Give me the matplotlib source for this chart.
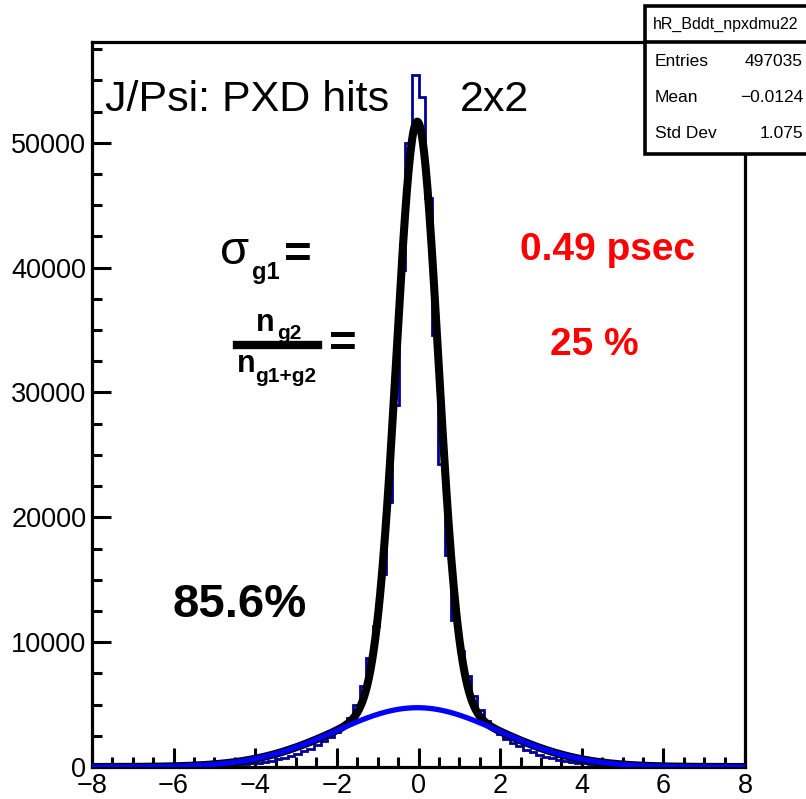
import numpy as np
import matplotlib
matplotlib.use("Agg")
import matplotlib.pyplot as plt
from matplotlib.ticker import MultipleLocator
from matplotlib.patches import Rectangle
from matplotlib.lines import Line2D

plt.rcParams['font.family'] = ['Liberation Sans', 'DejaVu Sans']

# histogram: 100 bins from -8 to 8
bin_edges = np.linspace(-8, 8, 101)
left_tail = [6, 7, 8, 9, 10, 12, 14, 16, 19, 22, 26, 30, 36, 42, 50, 60, 70, 85, 100, 120,
             145, 175, 210, 250, 300, 360, 430, 510, 610, 730, 880, 1050, 1250, 1480, 1750, 2050,
             2400, 2800, 3300, 3900]
core = [5000, 6470, 8700, 11300, 15500, 21200, 29000, 39800, 50000, 55400,
        53700, 45600, 34600, 24250, 16950, 11780, 9300, 7300, 5700, 4600]
right_tail = [3700, 3100, 2650, 2250, 1950, 1650, 1400, 1180, 1000, 840, 700, 590, 490, 410,
              345, 290, 240, 200, 170, 140, 118, 98, 82, 68, 58, 48, 40, 34, 29, 25, 21, 18,
              15, 13, 11, 10, 8, 7, 6, 5]
counts = left_tail + core + right_tail

# double gaussian fit
fit_mean = -0.03
narrow_amp, narrow_sigma = 46950, 0.51
wide_amp, wide_sigma = 4750, 2.0

# stats box
stat_title = "hR_Bddt_npxdmu22"
stat_names = ["Entries", "Mean", "Std Dev"]
stat_values = ["497035", "\u22120.0124", "1.075"]

W, H = 806, 799


def fx(px):
    return px / W


def fy(py):
    return 1 - py / H


fig = plt.figure(figsize=(W / 100, H / 100), dpi=100)
ax = fig.add_axes([fx(92), fy(767), (745 - 92) / W, (767 - 41.7) / H])

ax.stairs(counts, bin_edges, color='#000099', linewidth=2.0, zorder=2)

xs = np.linspace(-8, 8, 801)
wide = wide_amp * np.exp(-0.5 * ((xs - fit_mean) / wide_sigma) ** 2)
narrow = narrow_amp * np.exp(-0.5 * ((xs - fit_mean) / narrow_sigma) ** 2)
ax.plot(xs, narrow + wide, color='black', linewidth=5.8, zorder=3)
ax.plot(xs, wide, color='#0000ff', linewidth=3.8, zorder=4)

ax.set_xlim(-8, 8)
ax.set_ylim(0, 58100)
ax.xaxis.set_major_locator(MultipleLocator(2))
ax.xaxis.set_minor_locator(MultipleLocator(0.5))
ax.yaxis.set_major_locator(MultipleLocator(10000))
ax.yaxis.set_minor_locator(MultipleLocator(2500))
ax.tick_params(which='both', direction='in', top=False, right=False, width=2.2,
               labelsize=19.5, colors='black')
ax.tick_params(which='major', length=14)
ax.tick_params(which='minor', length=7)
ax.tick_params(axis='y', pad=4)
ax.tick_params(axis='x', pad=4)
for s in ax.spines.values():
    s.set_linewidth(2.3)

# annotations
fig.text(fx(105), fy(100), "J/Psi: PXD hits", fontsize=31, va='center', ha='left')
fig.text(fx(460), fy(100), "2x2", fontsize=31, va='center', ha='left')

fig.text(fx(220), fy(252), "\u03c3", fontsize=34, va='center', ha='left')
fig.text(fx(252), fy(272), "g1", fontsize=17, fontweight='bold', va='center', ha='left')
fig.text(fx(284), fy(256), "=", fontsize=34, fontweight='bold', va='center', ha='left')

fig.text(fx(520), fy(250), "0.49 psec", fontsize=28, fontweight='bold', color='#ff0000',
         va='center', ha='left')
fig.text(fx(550), fy(345), "25 %", fontsize=28, fontweight='bold', color='#ff0000',
         va='center', ha='left')

fig.text(fx(256), fy(323), "n", fontsize=22, fontweight='bold', va='center', ha='left')
fig.text(fx(277), fy(333), "g2", fontsize=15, fontweight='bold', va='center', ha='left')
fig.add_artist(Line2D([fx(237), fx(318)], [fy(345), fy(345)], color='black', linewidth=6,
                      transform=fig.transFigure))
fig.text(fx(237), fy(364), "n", fontsize=22, fontweight='bold', va='center', ha='left')
fig.text(fx(255), fy(376), "g1+g2", fontsize=15, fontweight='bold', va='center', ha='left')
fig.text(fx(329), fy(345), "=", fontsize=34, fontweight='bold', va='center', ha='left')

fig.text(fx(172), fy(605), "85.6%", fontsize=34, fontweight='bold', va='center', ha='left')

# stats box
box = Rectangle((fx(645), fy(154)), fx(820) - fx(645), fy(6) - fy(154),
                transform=fig.transFigure, facecolor='white', edgecolor='black',
                linewidth=2.6, zorder=10, clip_on=False)
fig.add_artist(box)
fig.add_artist(Line2D([fx(645), fx(820)], [fy(41.7), fy(41.7)], color='black', linewidth=2.6,
                      transform=fig.transFigure, zorder=11))
fig.text(fx(653), fy(24), stat_title, fontsize=11.5, va='center', ha='left', zorder=12)
for i, (name, val) in enumerate(zip(stat_names, stat_values)):
    y = 62 + i * 36
    fig.text(fx(655), fy(y), name, fontsize=12.5, va='center', ha='left', zorder=12)
    fig.text(fx(803), fy(y), val, fontsize=12.5, va='center', ha='right', zorder=12)

fig.savefig("out.png", dpi=100)
